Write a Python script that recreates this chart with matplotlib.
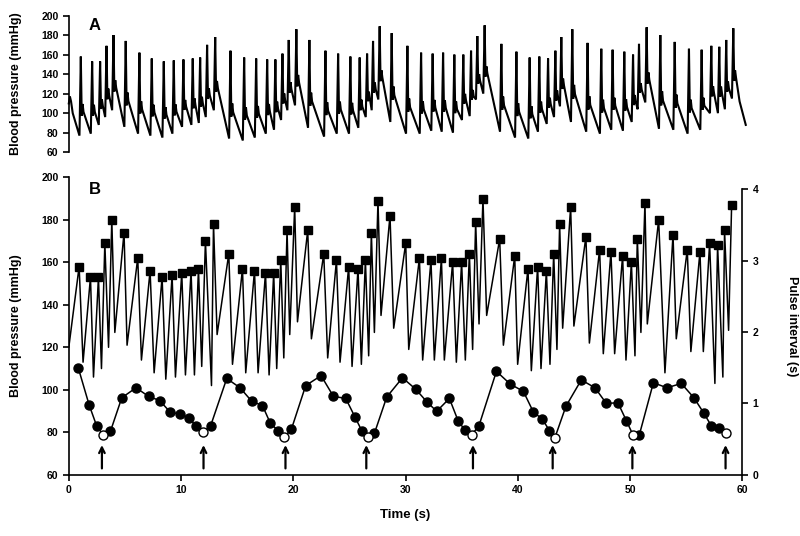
import numpy as np
import matplotlib.pyplot as plt

plt.rcParams['font.family'] = ['Liberation Sans', 'DejaVu Sans']
plt.rcParams['font.weight'] = 'bold'
plt.rcParams['axes.labelweight'] = 'bold'

# beat times (s) and systolic peaks (mmHg), squares in panel B / peaks in panel A
beat_t = [0.92, 1.93, 2.64, 3.21, 3.83, 4.92, 6.14, 7.24, 8.31, 9.20, 10.06, 10.89,
          11.55, 12.17, 12.89, 14.25, 15.47, 16.54, 17.52, 18.25, 18.88, 19.44, 20.12, 21.28,
          22.71, 23.84, 24.93, 25.76, 26.42, 26.95, 27.54, 28.61, 30.01, 31.23, 32.26, 33.19,
          34.19, 34.99, 35.68, 36.24, 36.89, 38.38, 39.72, 40.90, 41.76, 42.54,
          43.19, 43.72, 44.70, 46.06, 47.28, 48.29, 49.33, 50.11, 50.64, 51.32, 52.54, 53.82,
          55.09, 56.22, 57.08, 57.79, 58.41, 59.04]
sbp = [158, 153, 153, 169, 180, 174, 162, 156, 153, 154, 155, 156,
       157, 170, 178, 164, 157, 156, 155, 155, 161, 175, 186, 175,
       164, 161, 158, 157, 161, 174, 189, 182, 169, 162, 161, 162,
       160, 160, 164, 179, 190, 171, 163, 157, 158, 156,
       164, 178, 186, 172, 166, 165, 163, 160, 171, 188, 180, 173,
       166, 165, 169, 168, 175, 187]

# lower ends of the sawtooth in panel B
trough_t = [0.0, 1.27, 2.20, 2.91, 3.54, 4.10, 5.19, 6.47, 7.60, 8.64, 9.50, 10.39,
            11.19, 11.84, 12.71, 13.21, 14.58, 15.76, 16.86, 17.84, 18.52, 19.15, 19.68, 20.37,
            21.61, 23.06, 24.16, 25.23, 26.06, 26.71, 27.22, 27.81, 28.94, 30.28, 31.52, 32.56,
            33.45, 34.52, 35.32, 35.97, 36.54, 37.22, 38.71, 39.98, 41.20, 42.06,
            42.86, 43.48, 43.99, 44.99, 46.37, 47.61, 48.62, 49.63, 50.43, 50.96, 51.53, 53.10,
            54.11, 55.41, 56.52, 57.55, 58.26, 58.77]
trough_bp = [120, 113, 106, 110, 120, 127, 121, 114, 108, 105, 106, 107,
             107, 111, 102, 126, 112, 108, 108, 107, 110, 115, 126, 132,
             124, 115, 113, 111, 112, 116, 127, 135, 129, 119, 114, 114,
             114, 113, 114, 119, 131, 135, 121, 112, 109, 110,
             112, 119, 129, 130, 122, 117, 117, 114, 116, 127, 131, 108,
             124, 118, 118, 103, 106, 128]

# pulse interval (s), circles in panel B
pi_t = [0.86, 1.81, 2.47, 3.05, 3.71, 4.72, 5.99, 7.10, 8.10, 9.02, 9.91, 10.69,
        11.34, 11.99, 12.64, 14.07, 15.25, 16.30, 17.25, 17.96, 18.64, 19.21, 19.83, 21.10,
        22.47, 23.57, 24.67, 25.49, 26.09, 26.65, 27.22, 28.32, 29.72, 30.90, 31.91, 32.77,
        33.90, 34.67, 35.26, 35.89, 36.54, 38.09, 39.33, 40.49, 41.38, 42.18,
        42.81, 43.30, 44.28, 45.65, 46.87, 47.88, 48.91, 49.66, 50.25, 50.82, 52.07, 53.28,
        54.56, 55.68, 56.54, 57.22, 57.91, 58.57]
pi_s = [1.49, 0.98, 0.69, 0.56, 0.61, 1.08, 1.22, 1.10, 1.04, 0.88, 0.85, 0.80,
        0.68, 0.60, 0.69, 1.35, 1.22, 1.03, 0.97, 0.72, 0.62, 0.53, 0.64, 1.25,
        1.39, 1.10, 1.07, 0.81, 0.62, 0.53, 0.58, 1.09, 1.36, 1.20, 1.02, 0.89,
        1.07, 0.76, 0.63, 0.56, 0.69, 1.45, 1.27, 1.17, 0.88, 0.78,
        0.62, 0.52, 0.96, 1.33, 1.22, 1.00, 1.01, 0.76, 0.56, 0.56, 1.29, 1.22,
        1.28, 1.08, 0.87, 0.69, 0.65, 0.58]
open_idx = [3, 13, 21, 29, 39, 47, 54, 63]
arrow_t = [2.95, 12.0, 19.3, 26.5, 36.0, 43.1, 50.2, 58.5]

# panel A: diastolic foot before each beat (mmHg)
foot_bp = [77, 79, 88, 96, 103, 86, 79, 77, 75, 79, 86, 88,
           90, 96, 103, 74, 72, 75, 79, 83, 93, 103, 108, 85,
           76, 79, 79, 85, 96, 103, 114, 91, 79, 79, 82, 81,
           80, 93, 97, 114, 120, 81, 75, 74, 81, 89,
           96, 107, 91, 81, 79, 83, 82, 91, 104, 111, 84, 83,
           79, 83, 100, 100, 104, 115]
head_t, head_v = [0.0, 0.1, 0.2, 0.35], [110, 117, 112, 100]
tail_t, tail_v = [59.75, 60.3], [112, 88]
a_lag = 0.15

# build the continuous waveform of panel A (peak, notch, dicrotic bump, run-off)
wt, wv = list(head_t), list(head_v)
for tp, p, f in zip(beat_t, sbp, foot_bp):
    tp = tp + a_lag
    wt += [tp - 0.12, tp, tp + 0.08, tp + 0.16, tp + 0.24]
    wv += [f, p, f + 0.25 * (p - f), f + 0.40 * (p - f), f + 0.30 * (p - f)]
wt += tail_t
wv += tail_v

fig = plt.figure(figsize=(8, 5.36), dpi=100)
axA = fig.add_axes([0.086, 0.716, 0.842, 0.255])
axB = fig.add_axes([0.086, 0.1142, 0.842, 0.555])
axR = axB.twinx()

# panel A
axA.plot(wt, wv, color='black', lw=1.5, clip_on=False, solid_joinstyle='miter')
axA.set_xlim(0, 60)
axA.set_ylim(60, 200)
axA.set_yticks(range(60, 201, 20))
axA.set_xticks([])
for s in ['top', 'right', 'bottom']:
    axA.spines[s].set_visible(False)
axA.spines['left'].set_linewidth(1.2)
axA.tick_params(axis='y', direction='out', length=4, width=1.2, labelsize=7.5)
axA.set_ylabel('Blood pressure (mmHg)', fontsize=9)
axA.yaxis.set_label_coords(-0.07, 0.5)
axA.text(0.03, 0.93, 'A', transform=axA.transAxes, fontsize=12, fontweight='bold', va='center')

# panel B: systolic sawtooth
saw_t, saw_v = [], []
for i in range(len(beat_t)):
    saw_t += [trough_t[i], beat_t[i]]
    saw_v += [trough_bp[i], sbp[i]]
axB.plot(saw_t, saw_v, color='black', lw=1.1)
axB.plot(beat_t, sbp, 's', color='black', ms=6, ls='none')
axB.set_xlim(0, 60)
axB.set_ylim(60, 200)
axB.set_yticks(range(60, 201, 20))
axB.set_xticks(range(0, 61, 10))
axB.spines['top'].set_visible(False)
axB.spines['right'].set_visible(False)
axB.spines['left'].set_linewidth(1.2)
axB.spines['bottom'].set_linewidth(1.2)
axB.tick_params(direction='out', length=4, width=1.2, labelsize=7.5)
axB.set_ylabel('Blood pressure (mmHg)', fontsize=9)
axB.yaxis.set_label_coords(-0.07, 0.5)
axB.set_xlabel('Time (s)', fontsize=9.5)
axB.xaxis.set_label_coords(0.5, -0.115)
axB.text(0.03, 0.96, 'B', transform=axB.transAxes, fontsize=12, fontweight='bold', va='center')

for t in arrow_t:
    axB.annotate('', xy=(t, 74), xytext=(t, 63),
                 arrowprops=dict(arrowstyle='->', color='black', lw=1.6,
                                 mutation_scale=10, shrinkA=0, shrinkB=0))

# pulse interval on right axis
axR.plot(pi_t, pi_s, color='black', lw=1.1, zorder=2)
filled = [i for i in range(len(pi_t)) if i not in open_idx]
axR.plot([pi_t[i] for i in filled], [pi_s[i] for i in filled], 'o', color='black',
         ms=6.5, ls='none', zorder=3)
axR.plot([pi_t[i] for i in open_idx], [pi_s[i] for i in open_idx], 'o', mfc='white',
         mec='black', mew=1.0, ms=6.5, ls='none', zorder=3)
axR.set_ylim(0, 4.17)
axR.set_yticks([0, 1, 2, 3, 4])
axR.spines['top'].set_visible(False)
axR.spines['left'].set_visible(False)
axR.spines['bottom'].set_visible(False)
axR.spines['right'].set_linewidth(1.2)
axR.spines['right'].set_bounds(0, 4)
axR.tick_params(direction='out', length=4, width=1.2, labelsize=7.5)
axR.set_ylabel('Pulse interval (s)', fontsize=9, rotation=270, va='bottom')
axR.yaxis.set_label_coords(1.065, 0.5)

fig.savefig('out.png', dpi=100)
